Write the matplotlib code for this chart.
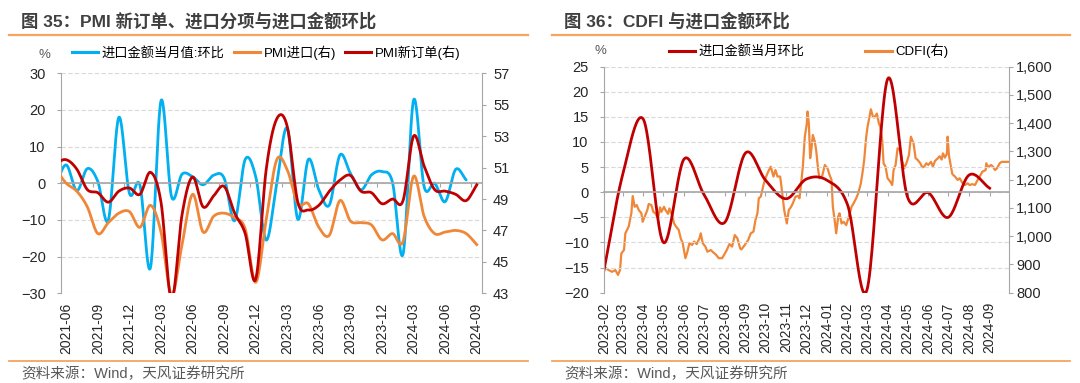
import numpy as np
import pandas as pd
import matplotlib
matplotlib.use('Agg')
import matplotlib.pyplot as plt
import matplotlib.dates as mdates
import matplotlib.transforms as mtrans
from matplotlib.lines import Line2D
from matplotlib.ticker import FuncFormatter

plt.rcParams['font.family'] = ['Liberation Sans', 'Noto Sans CJK SC']
plt.rcParams['axes.unicode_minus'] = True

# ---------------- left chart: monthly, 2021-05 .. 2024-09 ----------------
left_months = list(pd.period_range('2021-05', '2024-09', freq='M').strftime('%Y-%m'))
# 进口金额当月值:环比 (%), ends 2024-08
import_mom = [-0.5, 5.0, -2.0, 4.0, 0.5, -10.0, 18.0, -2.7, -0.5, -23.0,
              22.5, -3.6, 2.5, 1.8, -0.4, 2.2, 1.4, -10.2, 6.5, 1.8,
              -15.5, 0.0, 15.0, -9.8, 6.5, -1.8, -5.9, 7.7, 2.7, -1.8,
              2.3, 3.2, 0.2, -19.3, 22.7, -0.9, 0.0, -5.0, 3.8, 0.9]
# PMI进口 (right axis)
pmi_import = [50.9, 50.0, 49.5, 48.5, 46.8, 47.5, 48.1, 48.2,
              47.2, 48.6, 46.9, 42.9, 46.1, 49.3, 46.9, 47.9, 48.1, 47.8, 47.1, 43.7,
              47.7, 51.5, 50.85, 48.7, 48.7, 47.2, 46.7, 48.9, 47.6, 47.5, 47.35, 46.4,
              46.8, 46.3, 50.45, 47.9, 46.8, 46.9, 47.0, 46.8, 46.1]
# PMI新订单 (right axis)
pmi_new_order = [51.3, 51.5, 50.9, 49.6, 49.4, 48.8, 49.5, 49.7,
                 49.3, 50.7, 48.8, 42.6, 48.0, 50.4, 48.5, 49.2, 49.8, 48.1, 46.8, 43.9,
                 50.9, 54.1, 53.6, 48.8, 48.3, 48.6, 49.5, 50.2, 50.5, 49.5, 49.4, 48.7,
                 49.0, 48.9, 53.0, 51.1, 49.6, 49.5, 49.3, 48.9, 49.9]

# ---------------- right chart ----------------
right_months = list(pd.period_range('2023-02', '2024-09', freq='M').strftime('%Y-%m'))
# 进口金额当月环比 (%)
import_mom_r = [-15.5, 3.5, 14.5, -10.0, 6.6, -0.5, -6.0, 7.8, 2.4, -1.3,
                2.6, 2.4, -2.5, -19.5, 22.5, -1.0, -0.1, -5.0, 3.4, 0.8]
# CDFI (right axis), days after 2023-02-01
cdfi_day = [0, 7, 12, 17, 21, 24, 26, 30, 32, 37, 41, 43, 46, 49, 52, 56, 58, 61, 65, 67,
            71, 74, 77, 81, 84, 86, 90, 92, 96, 98, 102, 105, 108, 112, 115, 118, 122, 125, 128, 132,
            135, 139, 143, 145, 148, 152, 155, 160, 164, 168, 172, 177, 180, 184, 188, 192, 196, 200, 204, 206,
            211, 216, 220, 224, 227, 230, 232, 235, 239, 242, 246, 250, 254, 257, 260, 264, 266, 270, 274, 277,
            280, 283, 287, 291, 293, 296, 298, 301, 304, 305, 307, 309, 311, 313, 316, 318, 321, 323, 327, 331,
            335, 338, 341, 343, 346, 348, 351, 353, 356, 359, 363, 367, 371, 374, 378, 381, 385, 388, 390, 393,
            395, 398, 400, 403, 405, 409, 412, 414, 417, 419, 422, 425, 429, 432, 434, 437, 440, 444, 447, 450,
            454, 457, 460, 464, 467, 470, 474, 477, 480, 483, 486, 490, 493, 496, 500, 503, 506, 508, 511, 514,
            515, 517, 520, 522, 526, 530, 533, 537, 541, 545, 548, 552, 556, 560, 563, 567, 572, 573, 576, 580,
            583, 586, 589, 593, 596, 598, 607]
cdfi_value = [892, 880, 874, 880, 863, 880, 939, 951, 1010, 1034, 1081, 1142, 1104, 1110, 1093, 1081, 1051, 1069, 1093, 1114,
              1110, 1086, 1081, 1063, 1102, 1086, 1104, 1093, 1079, 1098, 1075, 1045, 1034, 1022, 992, 975, 922, 945, 975, 969,
              981, 972, 992, 1010, 975, 963, 945, 951, 942, 934, 922, 922, 934, 951, 972, 963, 1004, 992, 957, 953,
              969, 986, 1010, 1016, 1057, 1081, 1134, 1140, 1181, 1205, 1228, 1246, 1211, 1234, 1211, 1211, 1175, 1093, 1045, 1093,
              1102, 1116, 1140, 1142, 1134, 1199, 1246, 1352, 1399, 1441, 1399, 1276, 1311, 1358, 1334, 1304, 1234, 1205, 1213, 1252,
              1240, 1217, 1199, 1104, 1051, 1010, 1069, 1081, 1045, 1051, 1039, 1069, 1104, 1116, 1134, 1152, 1187, 1234, 1270, 1352,
              1387, 1423, 1449, 1423, 1420, 1434, 1399, 1387, 1340, 1258, 1246, 1205, 1193, 1181, 1234, 1252, 1311, 1304, 1263, 1240,
              1263, 1287, 1352, 1328, 1276, 1270, 1258, 1244, 1246, 1258, 1252, 1263, 1246, 1266, 1275, 1283, 1271, 1293, 1278, 1293,
              1352, 1285, 1246, 1220, 1211, 1199, 1205, 1189, 1181, 1187, 1181, 1184, 1181, 1199, 1211, 1228, 1234, 1258, 1244, 1252,
              1246, 1234, 1240, 1258, 1263, 1263, 1263]

BLUE = '#00B0F0'
ORANGE = '#F08738'
RED = '#C00000'
GRID = '#d9d9d9'
AXC = '#a6a6a6'
TXT = '#262626'
SEP = '#F5A55F'


def smooth(x, y, n=24):
    # excel-style smoothed line (uniform catmull-rom through the points)
    x = np.asarray(x, float)
    y = np.asarray(y, float)
    px = np.r_[2 * x[0] - x[1], x, 2 * x[-1] - x[-2]]
    py = np.r_[2 * y[0] - y[1], y, 2 * y[-1] - y[-2]]
    t = np.linspace(0, 1, n, endpoint=False)[:, None]

    def seg(p):
        p0, p1, p2, p3 = p[:-3], p[1:-2], p[2:-1], p[3:]
        return 0.5 * (2 * p1 + (p2 - p0) * t + (2 * p0 - 5 * p1 + 4 * p2 - p3) * t ** 2
                      + (3 * p1 - p0 - 3 * p2 + p3) * t ** 3)
    return np.r_[seg(px).T.ravel(), x[-1]], np.r_[seg(py).T.ravel(), y[-1]]


def style_axes(ax, ax2):
    for s in ['top', 'right']:
        ax.spines[s].set_visible(False)
    for s in ['top', 'left', 'bottom']:
        ax2.spines[s].set_visible(False)
    ax.spines['left'].set_color(AXC)
    ax2.spines['right'].set_color(AXC)
    ax.spines['bottom'].set_position(('data', 0))
    ax.spines['bottom'].set_color(AXC)
    ax.spines['bottom'].set_linewidth(1.2)
    ax.tick_params(axis='x', length=3, color=AXC, labelbottom=False)
    ax.tick_params(axis='y', length=3, color=AXC, labelsize=10.5, labelcolor=TXT, pad=8)
    ax.grid(axis='y', color=GRID, lw=0.8, ls=(0, (4, 2)))
    ax.set_axisbelow(True)


fig = plt.figure(figsize=(10.8, 3.83), dpi=100)
W, H = 1080, 383

# ======== left chart ========
axL = fig.add_axes([61 / W, 1 - 293.3 / H, 421 / W, 220 / H])
axL2 = axL.twinx()
xL = np.arange(len(left_months)) - 0.5   # category centres, 2021-06 centred at 0.5

bx, by = smooth(xL[:len(import_mom)], import_mom)
axL.plot(bx, by, color=BLUE, lw=2.0, solid_capstyle='round')
ox, oy = smooth(xL, pmi_import)
axL2.plot(ox, oy, color=ORANGE, lw=2.0)
rx, ry = smooth(xL, pmi_new_order)
axL2.plot(rx, ry, color=RED, lw=2.0)

axL.set_xlim(0, 40)
axL.set_ylim(-30, 30)
axL.set_yticks(range(-30, 31, 10))
axL2.set_ylim(43, 57)
axL2.set_yticks(range(43, 58, 2))
axL2.tick_params(axis='y', length=3, color=AXC, labelsize=10.5, labelcolor=TXT, pad=5)
axL.set_xticks(range(3, 40, 3))
style_axes(axL, axL2)

tL = mtrans.blended_transform_factory(axL.transData, axL.transAxes)
for i in range(1, len(left_months), 3):
    axL.text(xL[i], -0.042, left_months[i], transform=tL, rotation=90,
             ha='center', va='top', fontsize=10, color=TXT)

# ======== right chart ========
axR = fig.add_axes([604 / W, 1 - 292.7 / H, 405 / W, 226.1 / H])
axR2 = axR.twinx()
start = pd.Timestamp('2023-02-01')
month_dates = pd.to_datetime([m + '-01' for m in right_months])
xr = mdates.date2num(month_dates)
cdfi_dates = mdates.date2num(start + pd.to_timedelta(cdfi_day, unit='D'))

axR2.plot(cdfi_dates, cdfi_value, color=ORANGE, lw=1.6)
mx, my = smooth(xr, import_mom_r)
axR.plot(mx, my, color=RED, lw=2.0)
axR.set_zorder(axR2.get_zorder() + 1)
axR.patch.set_visible(False)

axR.set_xlim(mdates.date2num(start), mdates.date2num(start + pd.Timedelta(days=607)))
axR.set_ylim(-20, 25)
axR.set_yticks(range(-20, 26, 5))
axR2.set_ylim(800, 1600)
axR2.set_yticks(range(800, 1601, 100))
axR2.yaxis.set_major_formatter(FuncFormatter(lambda v, p: f'{v:,.0f}'))
axR2.tick_params(axis='y', length=3, color=AXC, labelsize=10.5, labelcolor=TXT, pad=2)
axR.set_xticks(xr)
style_axes(axR, axR2)

tR = mtrans.blended_transform_factory(axR.transData, axR.transAxes)
for x, lab in zip(xr, right_months):
    axR.text(x, -0.042, lab, transform=tR, rotation=90,
             ha='center', va='top', fontsize=10, color=TXT)

# ======== titles, legends, notes ========
fig.text(21 / W, 1 - 20.5 / H, '图 35：PMI 新订单、进口分项与进口金额环比',
         fontsize=12.5, color='#404040', fontweight='bold', va='center')
fig.text(564 / W, 1 - 20.5 / H, '图 36：CDFI 与进口金额环比',
         fontsize=12.5, color='#404040', fontweight='bold', va='center')
for x0, x1 in [(8.6, 528), (552, 1070)]:
    fig.add_artist(Line2D([x0 / W, x1 / W], [1 - 34.5 / H] * 2, color=SEP, lw=1.6))
    fig.add_artist(Line2D([x0 / W, x1 / W], [1 - 360.8 / H] * 2, color=SEP, lw=1.3))
fig.text(21 / W, 1 - 374 / H, '资料来源：Wind，天风证券研究所', fontsize=10.5,
         color='#595959', va='center')
fig.text(564 / W, 1 - 374 / H, '资料来源：Wind，天风证券研究所', fontsize=10.5,
         color='#595959', va='center')
fig.text(44 / W, 1 - 55 / H, '%', fontsize=9.5, color='#595959', ha='center', va='center')
fig.text(600 / W, 1 - 51 / H, '%', fontsize=9.5, color='#595959', ha='center', va='center')

hl = [Line2D([], [], color=c, lw=2.2) for c in (BLUE, ORANGE, RED)]
fig.legend(hl, ['进口金额当月值:环比', 'PMI进口(右)', 'PMI新订单(右)'],
           loc='center left', bbox_to_anchor=(72 / W, 1 - 52.5 / H), ncol=3,
           frameon=False, fontsize=9.5, handlelength=2.0, handletextpad=0.25,
           columnspacing=0.7, borderpad=0, borderaxespad=0)
hr = [Line2D([], [], color=c, lw=2.2) for c in (RED, ORANGE)]
fig.legend(hr, ['进口金额当月环比', 'CDFI(右)'],
           loc='center left', bbox_to_anchor=(669 / W, 1 - 51 / H), ncol=2,
           frameon=False, fontsize=9.5, handlelength=2.0, handletextpad=0.25,
           columnspacing=4.6, borderpad=0, borderaxespad=0)

fig.savefig('out.png', dpi=100)
